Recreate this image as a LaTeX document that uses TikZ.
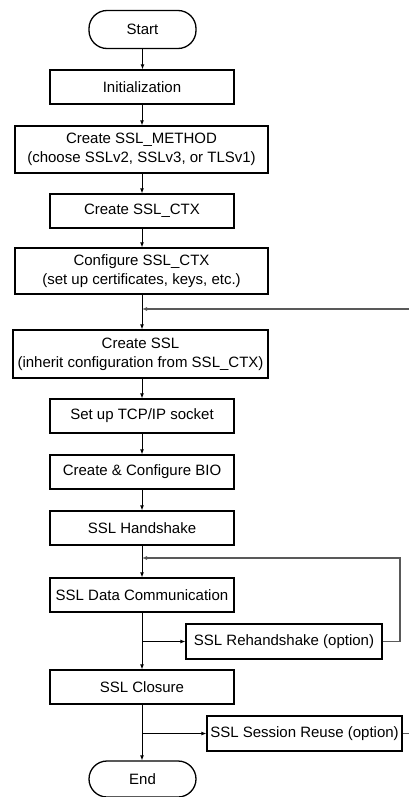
\documentclass[tikz,border=0pt]{standalone}
\usepackage{fontspec}
\setmainfont{Liberation Sans}
\usetikzlibrary{arrows.meta}
\begin{document}
\begin{tikzpicture}[x=1pt,y=-1pt,
  font=\fontsize{15}{19}\selectfont,
  box/.style={draw, line width=1.3pt, rectangle, align=center, inner sep=0pt},
  term/.style={draw, line width=1.3pt, rectangle, rounded corners=18pt, inner sep=0pt, minimum width=107pt, minimum height=38pt},
  conn/.style={line width=0.9pt, -{Latex[length=5pt,width=4pt]}},
  back/.style={line width=1.1pt, draw=black!65, -{Latex[length=5pt,width=4pt]}},
  plain/.style={line width=1.1pt, draw=black!65}]
\useasboundingbox (0,0) rectangle (409,797);
\node[term] (start) at (142.5,29.5) {Start};
\node[box, minimum width=184pt, minimum height=34pt] (init) at (142,87) {Initialization};
\node[box, minimum width=253pt, minimum height=47pt] (method) at (141.5,149.5) {Create SSL\_METHOD\\(choose SSLv2, SSLv3, or TLSv1)};
\node[box, minimum width=184pt, minimum height=34pt] (ctx) at (142,211) {Create SSL\_CTX};
\node[box, minimum width=253pt, minimum height=46pt] (conf) at (141.5,271) {Configure SSL\_CTX\\(set up certificates, keys, etc.)};
\node[box, minimum width=255pt, minimum height=48pt] (ssl) at (140.5,354) {Create SSL\\(inherit configuration from SSL\_CTX)};
\node[box, minimum width=184pt, minimum height=34pt] (tcp) at (142,416) {Set up TCP/IP socket};
\node[box, minimum width=184pt, minimum height=34pt] (bio) at (142,472) {Create \& Configure BIO};
\node[box, minimum width=184pt, minimum height=34pt] (hs) at (142,528) {SSL Handshake};
\node[box, minimum width=184pt, minimum height=34pt] (data) at (142,595) {SSL Data Communication};
\node[box, minimum width=196pt, minimum height=35pt] (reh) at (284,641.5) {SSL Rehandshake (option)};
\node[box, minimum width=184pt, minimum height=34pt] (clos) at (142,687) {SSL Closure};
\node[box, minimum width=195pt, minimum height=35pt] (reuse) at (304.5,733.5) {SSL Session Reuse (option)};
\node[term, minimum height=36pt] (end) at (142.5,779) {End};
% junctions
\coordinate (j1) at (142,309);
\coordinate (e1) at (409,309);
\coordinate (j2) at (142,558);
\coordinate (r1) at (400,558);
\coordinate (b1) at (142,641.5);
\coordinate (b2) at (142,733.5);
\coordinate (e2) at (409,733.5);
% main flow
\draw[conn] (start.south) -- (start.south |- init.north);
\draw[conn] (init.south) -- (init.south |- method.north);
\draw[conn] (method.south -| init.south) -- (ctx.north);
\draw[conn] (ctx.south) -- (ctx.south |- conf.north);
\draw[conn] (conf.south -| ctx.south) -- (ssl.north -| ctx.south);
\draw[conn] (ssl.south -| ctx.south) -- (tcp.north);
\draw[conn] (tcp.south) -- (bio.north);
\draw[conn] (bio.south) -- (hs.north);
\draw[conn] (hs.south) -- (data.north);
\draw[conn] (data.south) -- (clos.north);
\draw[conn] (clos.south) -- (clos.south |- end.north);
% feedback
\draw[back] (e1) -- (j1);
\draw[back] (reh.east) -| (r1) -- (j2);
\draw[conn] (b1) -- (reh.west);
\draw[conn] (b2) -- (reuse.west);
\draw[plain] (reuse.east) -- (e2);
\end{tikzpicture}
\end{document}
